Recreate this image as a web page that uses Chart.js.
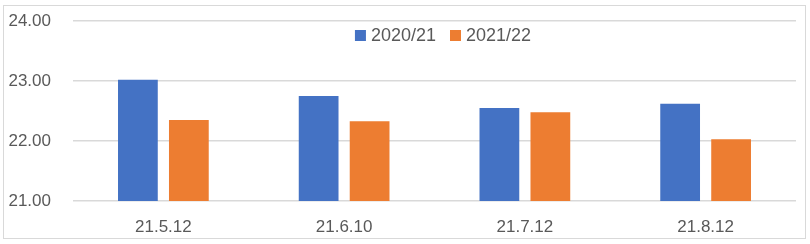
<!DOCTYPE html>
<html>
<head>
<meta charset="utf-8">
<script src="https://cdn.jsdelivr.net/npm/chart.js@4.4.1/dist/chart.umd.min.js"></script>
<style>
    html, body { margin: 0; padding: 0; background: #fff; }
    #wrap { position: relative; width: 810px; height: 244px; }
</style>
</head>
<body>
<div id="wrap"><canvas id="chart"></canvas></div>
<script>
const categories = ['21.5.12', '21.6.10', '21.7.12', '21.8.12'];
const seriesNames = ['2020/21', '2021/22'];
const values2020 = [23.02, 22.75, 22.55, 22.62];
const values2021 = [22.35, 22.33, 22.48, 22.03];
const yRange = [21, 24];
const yStep = 1;

const FONT = '"Liberation Sans", Arial, sans-serif';
const TEXT = '#595959';

// outer light frame, like the spreadsheet chart box
const framePlugin = {
    id: 'frame',
    beforeDraw(chart) {
        const ctx = chart.ctx;
        ctx.save();
        ctx.strokeStyle = '#d9d9d9';
        ctx.lineWidth = 1;
        ctx.strokeRect(3.5, 5.5, 802, 233);
        ctx.restore();
    }
};

// legend drawn inside the plot area, under the top gridline
const innerLegend = {
    id: 'innerLegend',
    afterDraw(chart, args, opts) {
        const ctx = chart.ctx;
        ctx.save();
        ctx.font = opts.size + 'px ' + FONT;
        ctx.textBaseline = 'middle';
        const items = chart.data.datasets.map(ds => ({
            label: ds.label,
            color: ds.backgroundColor,
            w: ctx.measureText(ds.label).width
        }));
        const box = 11, gap = 5, spacing = 14;
        let total = 0;
        items.forEach((it, i) => { total += box + gap + it.w + (i ? spacing : 0); });
        let x = opts.centerX - total / 2;
        items.forEach(it => {
            ctx.fillStyle = it.color;
            ctx.fillRect(x, opts.y - box / 2, box, box);
            x += box + gap;
            ctx.fillStyle = TEXT;
            ctx.fillText(it.label, x, opts.y + 1);
            x += it.w + spacing;
        });
        ctx.restore();
    }
};

new Chart(document.getElementById('chart'), {
    type: 'bar',
    data: {
        labels: categories,
        datasets: [
            { label: seriesNames[0], data: values2020, backgroundColor: '#4472C4' },
            { label: seriesNames[1], data: values2021, backgroundColor: '#ED7D31' }
        ]
    },
    options: {
        responsive: true,
        maintainAspectRatio: false,
        animation: false,
        events: [],
        layout: { padding: { left: 7, right: 14, top: 21, bottom: 0 } },
        datasets: {
            bar: { categoryPercentage: 0.564, barPercentage: 0.78 }
        },
        plugins: {
            legend: { display: false },
            tooltip: { enabled: false },
            innerLegend: { centerX: 443, y: 35.5, size: 18 }
        },
        scales: {
            x: {
                grid: { display: false, drawTicks: false },
                border: { display: false },
                ticks: { color: TEXT, font: { family: FONT, size: 17 }, padding: 16 },
                afterFit(scale) { scale.height = 43; }
            },
            y: {
                min: yRange[0],
                max: yRange[1],
                // hidden tick marks make the gap between labels and plot,
                // so the label padding doesn't push the plot top down
                grid: { color: '#d9d9d9', lineWidth: 1.5, drawTicks: true, tickLength: 22, tickColor: 'rgba(0,0,0,0)' },
                border: { display: false },
                ticks: {
                    stepSize: yStep,
                    color: TEXT,
                    font: { family: FONT, size: 17 },
                    padding: 0,
                    callback: v => v.toFixed(2)
                },
                afterFit(scale) { scale.width = 66; }
            }
        }
    },
    plugins: [framePlugin, innerLegend]
});
</script>
</body>
</html>
